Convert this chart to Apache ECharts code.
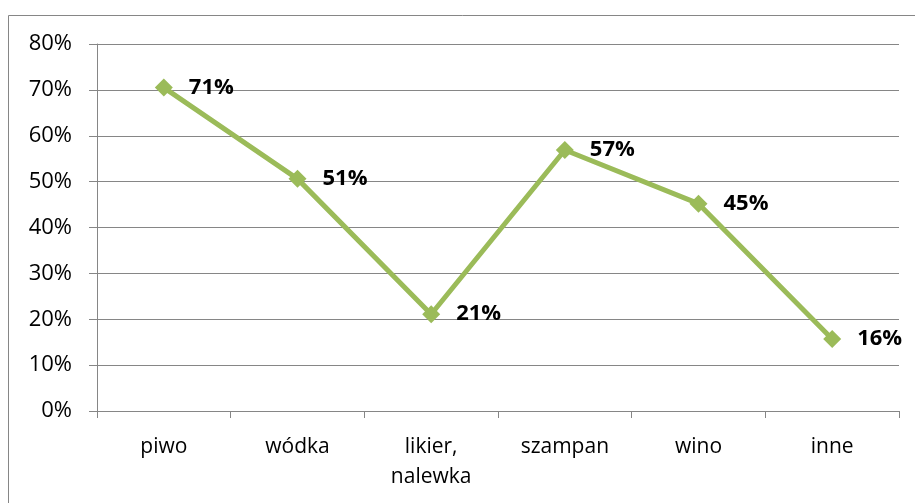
<!DOCTYPE html>
<html>
<head>
<meta charset="utf-8">
<script src="https://cdn.jsdelivr.net/npm/echarts@6/dist/echarts.min.js"></script>
<style>
html,body{margin:0;padding:0;background:#fff;}
#chart{width:915px;height:503px;}
</style>
</head>
<body>
<div id="chart"></div>
<script>
var categories = ['piwo','wódka','likier,\nnalewka','szampan','wino','inne'];
var values = [70.5,50.6,21.1,56.9,45.2,15.7];
var yTicks = [0,10,20,30,40,50,60,70,80];

var myChart = echarts.init(document.getElementById('chart'));
var font = 'Open Sans';
option = {
    animation:false,
    backgroundColor:'#fff',
    graphic:[{
        type:'rect',
        shape:{x:8.5,y:15.5,width:1000,height:600},
        style:{fill:'none',stroke:'#868686',lineWidth:1},
        silent:true
    }],
    grid:{left:97,top:44,right:16,bottom:92},
    xAxis:{
        type:'category',
        data:categories,
        boundaryGap:true,
        axisLine:{lineStyle:{color:'#868686',width:1}},
        axisTick:{show:true,length:7,alignWithLabel:false,lineStyle:{color:'#868686'}},
        axisLabel:{color:'#000',fontFamily:font,fontSize:21,margin:21,lineHeight:30}
    },
    yAxis:{
        type:'value',
        min:yTicks[0],
        max:yTicks[yTicks.length-1],
        interval:10,
        axisLine:{show:true,lineStyle:{color:'#868686',width:1}},
        axisTick:{show:true,length:8,lineStyle:{color:'#868686'}},
        splitLine:{lineStyle:{color:'#868686',width:1}},
        axisLabel:{color:'#000',fontFamily:font,fontSize:22,margin:25,formatter:'{value}%'}
    },
    series:[{
        type:'line',
        data:values,
        symbol:'diamond',
        symbolSize:18,
        itemStyle:{color:'#9BBB59'},
        lineStyle:{color:'#9BBB59',width:5},
        label:{
            show:true,
            position:'right',
            distance:16,
            color:'#000',
            fontFamily:font,
            fontWeight:'bold',
            fontSize:22,
            formatter:function(p){return Math.round(p.value)+'%';}
        }
    }]
};
myChart.setOption(option);
</script>
</body>
</html>
